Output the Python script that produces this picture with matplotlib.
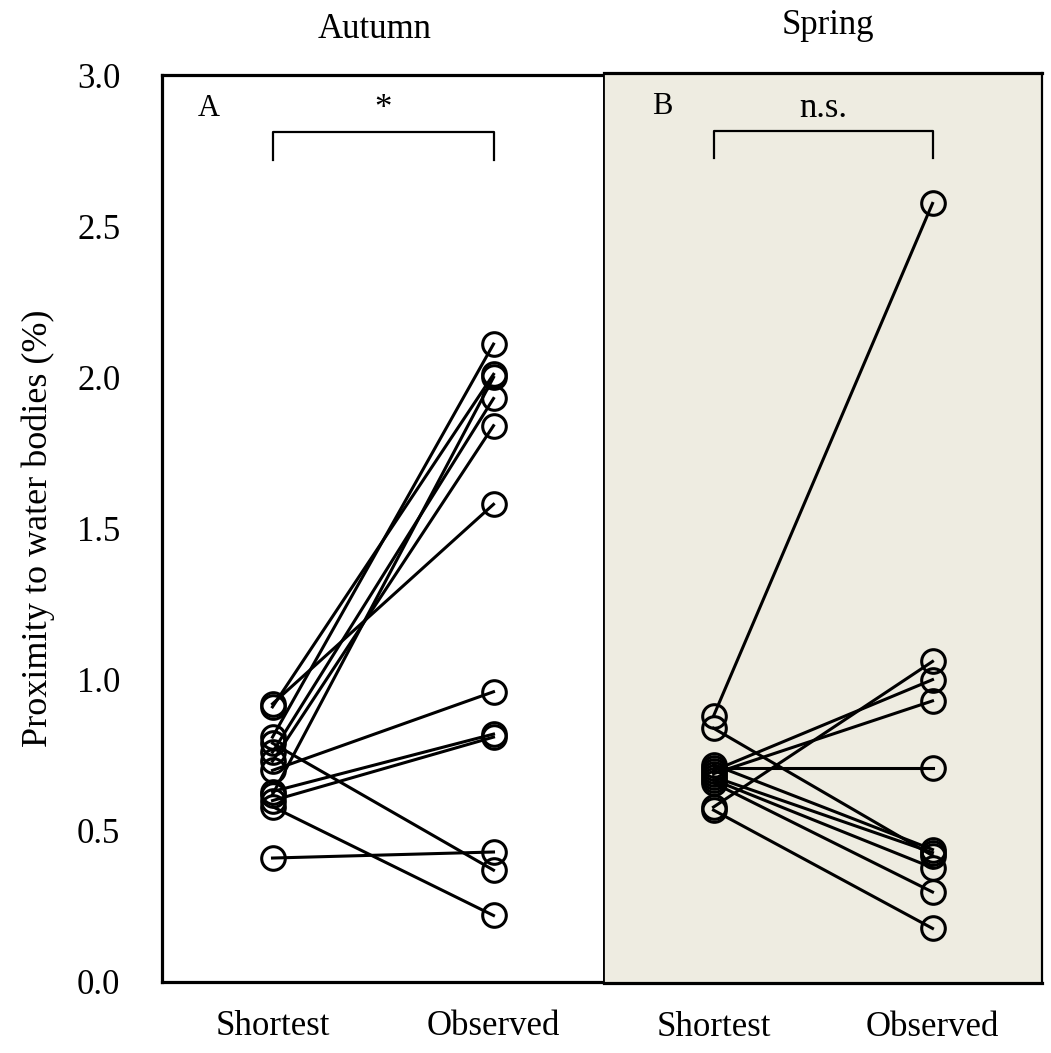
import matplotlib
matplotlib.use("Agg")
import matplotlib.pyplot as plt

plt.rcParams['font.family'] = ['Liberation Serif', 'DejaVu Serif']

conditions = ["Shortest", "Observed"]
titles = ["Autumn", "Spring"]
panel_labels = ["A", "B"]
sig_labels = ["*", "n.s."]
yticks = [0.0, 0.5, 1.0, 1.5, 2.0, 2.5, 3.0]

autumn_shortest = [0.92, 0.91, 0.81, 0.79, 0.76, 0.73, 0.70, 0.63, 0.62, 0.60, 0.58, 0.41]
autumn_observed = [1.58, 2.01, 2.11, 0.37, 1.93, 1.84, 0.96, 0.82, 2.00, 0.81, 0.22, 0.43]

spring_shortest = [0.88, 0.84, 0.72, 0.71, 0.70, 0.69, 0.68, 0.67, 0.66, 0.58, 0.57]
spring_observed = [2.57, 0.42, 0.44, 0.71, 1.00, 0.93, 0.43, 0.38, 0.30, 1.06, 0.18]

fig = plt.figure(figsize=(10.51, 10.53), dpi=100)
ax1 = fig.add_axes([162/1051, (1053-982)/1053, 442/1051, 907/1053])
ax2 = fig.add_axes([604/1051, (1053-983)/1053, 438/1051, 910/1053])

def draw(ax, s, o):
    for a, b in zip(s, o):
        ax.plot([0, 1], [a, b], color='black', lw=2.2, zorder=2)
    ax.plot([0]*len(s), s, 'o', mfc='none', mec='black', ms=17, mew=2.2, zorder=3)
    ax.plot([1]*len(o), o, 'o', mfc='none', mec='black', ms=17, mew=2.2, zorder=3)
    ax.set_xlim(-0.5, 1.5)
    ax.set_ylim(0, 3.0)
    ax.set_xticks([0, 1])
    ax.set_xticklabels(conditions, fontsize=25)
    ax.tick_params(axis='x', length=0, pad=20)

draw(ax1, autumn_shortest, autumn_observed)
draw(ax2, spring_shortest, spring_observed)

ax1.set_yticks(yticks)
ax1.set_yticklabels([f"{v:.1f}" for v in yticks], fontsize=25)
ax1.tick_params(axis='y', length=0, pad=30)
ax2.set_yticks([])
ax2.set_facecolor('#EEECE1')

for sp in ['left', 'top', 'bottom']:
    ax1.spines[sp].set_linewidth(2.3)
ax1.spines['right'].set_linewidth(1.3)
ax2.spines['left'].set_linewidth(1.3)
ax2.spines['right'].set_linewidth(1.6)
for sp in ['top', 'bottom']:
    ax2.spines[sp].set_linewidth(2.3)

ax1.set_ylabel("Proximity to water bodies (%)", fontsize=26, labelpad=16)

for ax, lab, sig, bx in [(ax1, panel_labels[0], sig_labels[0], -0.29),
                          (ax2, panel_labels[1], sig_labels[1], -0.235)]:
    ax.text(bx, 2.89, lab, fontsize=22, ha='center', va='center')
    ax.plot([0, 0, 1, 1], [2.72, 2.81, 2.81, 2.72], color='black', lw=1.6, zorder=2)
    ax.text(0.5, 2.83, sig, fontsize=25, ha='center', va='bottom')

fig.text(375/1051, (1053-30)/1053, titles[0], fontsize=25, ha='center', va='center')
fig.text(828/1051, (1053-25)/1053, titles[1], fontsize=25, ha='center', va='center')

fig.savefig("out.png", dpi=100)
